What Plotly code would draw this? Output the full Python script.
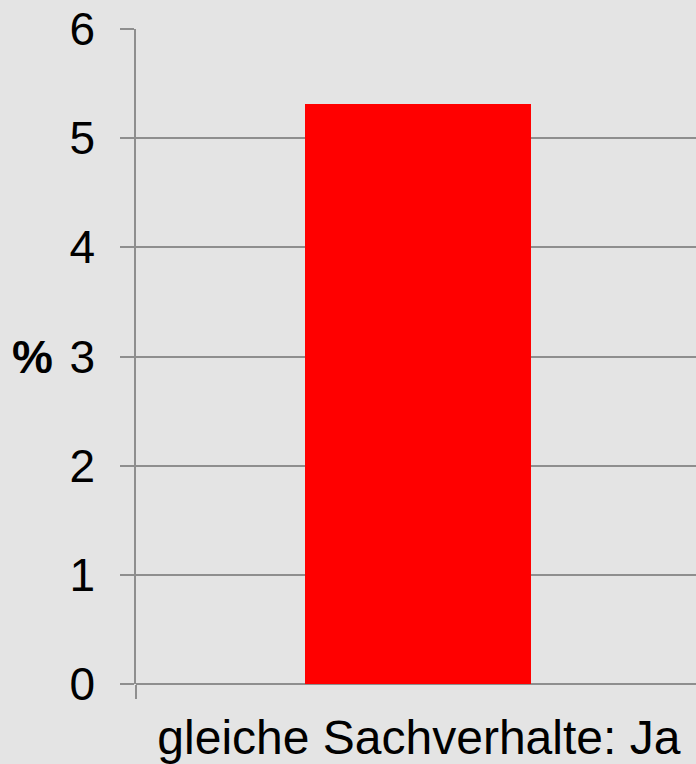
import plotly.graph_objects as go

categories = ["gleiche Sachverhalte: Ja"]
values = [5.31]
y_ticks = [0, 1, 2, 3, 4, 5, 6]

GRID = "#8e8e8e"
BG = "#e4e4e4"
FONT = "Liberation Sans, Arial, sans-serif"

fig = go.Figure(
    go.Bar(
        x=categories,
        y=values,
        marker=dict(color="#ff0000", line=dict(width=0)),
        width=0.4,
        offset=-0.201,
    )
)

fig.update_layout(
    width=696,
    height=764,
    paper_bgcolor=BG,
    plot_bgcolor=BG,
    margin=dict(l=136, r=0, t=29, b=80, pad=0),
    showlegend=False,
    font=dict(family=FONT, color="#000000", size=46),
    bargap=0,
)

# the category extends slightly past the right edge of the page
fig.update_xaxes(
    range=[-0.5, 0.49],
    showgrid=False,
    zeroline=False,
    showline=False,
    ticks="outside",
    tickson="boundaries",
    ticklen=14,
    tickwidth=1.5,
    tickcolor=GRID,
    tickfont=dict(size=48, family=FONT),
    ticklabelstandoff=21,
)

fig.update_yaxes(
    range=[0, 6],
    tickvals=y_ticks,
    showgrid=True,
    gridcolor=GRID,
    gridwidth=1.5,
    zeroline=True,
    zerolinecolor=GRID,
    zerolinewidth=1.5,
    showline=True,
    linecolor=GRID,
    linewidth=1.5,
    ticks="outside",
    ticklen=14,
    tickwidth=1.5,
    tickcolor=GRID,
    tickfont=dict(size=46, family=FONT),
    ticklabelstandoff=16,
)

fig.add_annotation(
    text="<b>%</b>",
    xref="paper",
    yref="y",
    x=-0.145,
    y=3,
    xanchor="right",
    yanchor="middle",
    showarrow=False,
    font=dict(size=46, family=FONT, color="#000000"),
)

fig.write_html("out.html")
